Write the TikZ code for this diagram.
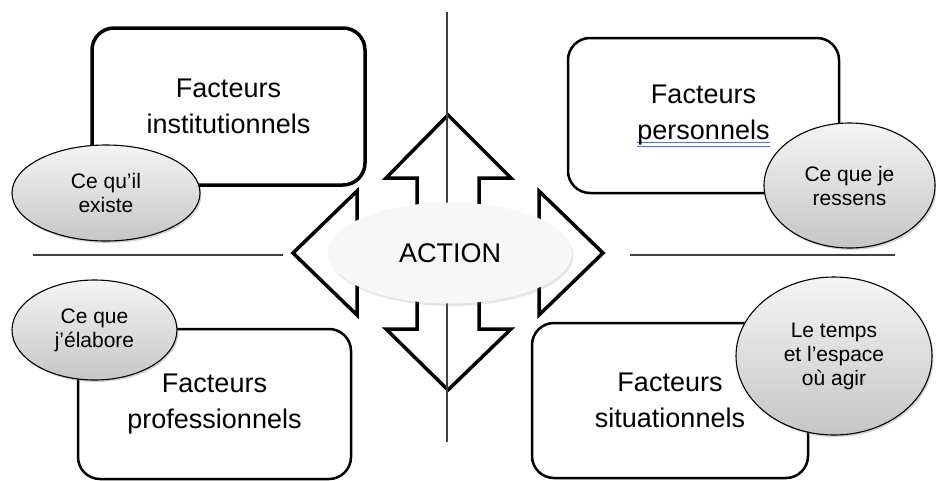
\documentclass[tikz,border=0pt]{standalone}
\usepackage{fontspec}
\setmainfont{Liberation Sans}
\usetikzlibrary{shapes.geometric,shadows}
\definecolor{spellblue}{RGB}{70,120,210}
% double blue underline, as the spell checker marks it
\newsavebox\spellbox
\newcommand\spellmark[1]{\sbox\spellbox{#1}%
  \rlap{\textcolor{spellblue}{\rule[-4pt]{\wd\spellbox}{1pt}}}%
  \rlap{\textcolor{spellblue}{\rule[-7.5pt]{\wd\spellbox}{1pt}}}\usebox\spellbox}
\begin{document}
\begin{tikzpicture}[x=1pt,y=-1pt,
    factor/.style={draw,rounded corners=22pt,line width=2.5pt,align=center,
      font=\fontsize{27}{36}\selectfont,inner sep=0pt},
    facet/.style={ellipse,draw,line width=1.1pt,top color=gray!8,bottom color=gray!45,
      align=center,font=\fontsize{21}{24}\selectfont,inner sep=0pt,
      drop shadow={shadow xshift=1.5pt,shadow yshift=-2pt,opacity=0.35}},
    separator/.style={line width=1.3pt,black!75},
    crossarrow/.style={draw,fill=white,line width=3.5pt,line join=miter}]
  \useasboundingbox (0,0) rectangle (936,480);
  % the four boxes
  \node[factor,line width=3.5pt,minimum width=273pt,minimum height=157pt] (inst) at (228.5,106.5) {Facteurs\\institutionnels};
  \node[factor,minimum width=271pt,minimum height=155pt] (pers) at (703.5,115.5) {Facteurs\\\spellmark{personnels}};
  \node[factor,minimum width=273pt,minimum height=150pt] (prof) at (214.5,404) {Facteurs\\professionnels};
  \node[factor,minimum width=276pt,minimum height=155pt] (situ) at (670,400.5) {Facteurs\\situationnels};
  %% the axes
  \coordinate (axisL1) at (33,255);  \coordinate (axisL2) at (283,255);
  \coordinate (axisR1) at (630,255); \coordinate (axisR2) at (895,255);
  \coordinate (axisT) at (447,12);   \coordinate (axisB) at (447,442);
  \draw[separator] (axisL1) -- (axisL2);
  \draw[separator] (axisR1) -- (axisR2);
  % the arrow in four directions, around the hub
  \coordinate (hub) at (448,253);
  \begin{scope}[shift={(hub)}]
    \draw[crossarrow] (0,-138) -- (63,-75) -- (31,-75) -- (31,-31) -- (91,-31) -- (91,-62)
      -- (155,0) -- (91,62) -- (91,31) -- (31,31) -- (31,76) -- (63,76)
      -- (0,137) -- (-62,76) -- (-31,76) -- (-31,31) -- (-91,31) -- (-91,62)
      -- (-155,0) -- (-91,-62) -- (-91,-31) -- (-31,-31) -- (-31,-75) -- (-62,-75) -- cycle;
  \end{scope}
  \draw[separator,line width=1.1pt] (axisT) -- (axisB);
  \node[ellipse,fill=gray!6,minimum width=244pt,minimum height=101pt,inner sep=0pt,
    font=\fontsize{27}{36}\selectfont,
    drop shadow={shadow xshift=1.5pt,shadow yshift=-2.5pt,opacity=0.2}] (action) at (450,253) {ACTION};
  % the ellipses on the boxes
  \node[facet,minimum width=188pt,minimum height=96pt] (exist) at (106,193) {Ce qu'il\\existe};
  \node[facet,minimum width=171pt,minimum height=125pt] (feel) at (849.5,185.5) {Ce que je\\ressens};
  \node[facet,minimum width=165pt,minimum height=100pt] (build) at (94.5,330) {Ce que\\j'élabore};
  \node[facet,minimum width=196pt,minimum height=158pt] (when) at (834,356) {Le temps\\et l'espace\\où agir};
\end{tikzpicture}
\end{document}
